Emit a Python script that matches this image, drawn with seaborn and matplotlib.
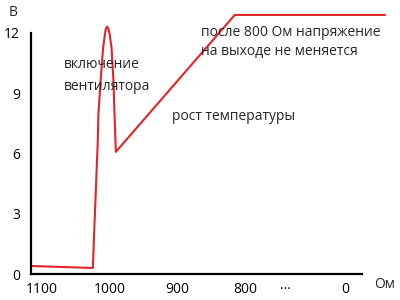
import matplotlib
matplotlib.use("Agg")
import matplotlib.pyplot as plt
import seaborn as sns
import pandas as pd

# axis position: 1 unit = 100 Ом step from 1100 (broken axis after 800)
x_pos = [-0.16, 0.753, 0.827, 0.835, 0.867, 0.905, 0.931, 0.945, 0.965, 0.985, 1.004, 1.030, 1.059, 1.074, 1.093, 2.85, 5.07]
voltage = [0.40, 0.30, 6.67, 7.92, 9.56, 11.25, 11.90, 12.20, 12.32, 12.18, 11.90, 11.25, 9.56, 7.92, 6.08, 12.90, 12.90]

x_tick_pos = [0, 1, 2, 3, 3.6, 4.48]
x_tick_labels = ["1100", "1000", "900", "800", "···", "0"]
y_ticks = [0, 3, 6, 9, 12]
y_tick_labels = ["0", "3", "6", "9", "12"]

sns.set_style("white")
plt.rcParams['font.family'] = ['Open Sans', 'DejaVu Sans']

fig = plt.figure(figsize=(4, 3), dpi=100)
ax = fig.add_axes([31/400, 26/300, (362-31)/400, (274-33)/300])

df = pd.DataFrame({"x": x_pos, "v": voltage})
sns.lineplot(data=df, x="x", y="v", sort=False, color="#e3242b", linewidth=1.5, ax=ax, clip_on=False)

ax.set_xlim(-0.16, 4.73)
ax.set_ylim(0, 12)
ax.set_xticks(x_tick_pos)
ax.set_xticklabels(x_tick_labels)
ax.set_yticks(y_ticks)
ax.set_yticklabels(y_tick_labels)
ax.tick_params(axis='both', length=0, labelsize=10, colors='black')
ax.tick_params(axis='x', pad=6)
ax.tick_params(axis='y', pad=8)
ax.set_xlabel("")
ax.set_ylabel("")
for s in ["top", "right"]:
    ax.spines[s].set_visible(False)
for s in ["left", "bottom"]:
    ax.spines[s].set_color("black")
    ax.spines[s].set_linewidth(1.6)

fig.text(13/400, 1 - 13/300, "В", fontsize=10, ha="center", va="center")
fig.text(385/400, 1 - 285/300, "Ом", fontsize=10, ha="center", va="center")
fig.text(64/400, 1 - 65/300, "включение", fontsize=10, ha="left", va="center")
fig.text(64/400, 1 - 86/300, "вентилятора", fontsize=10, ha="left", va="center")
fig.text(172/400, 1 - 117/300, "рост температуры", fontsize=10, ha="left", va="center")
fig.text(201/400, 1 - 33/300, "после 800 Ом напряжение", fontsize=10, ha="left", va="center")
fig.text(201/400, 1 - 52/300, "на выходе не меняется", fontsize=10, ha="left", va="center")

fig.savefig("out.png", dpi=100)
